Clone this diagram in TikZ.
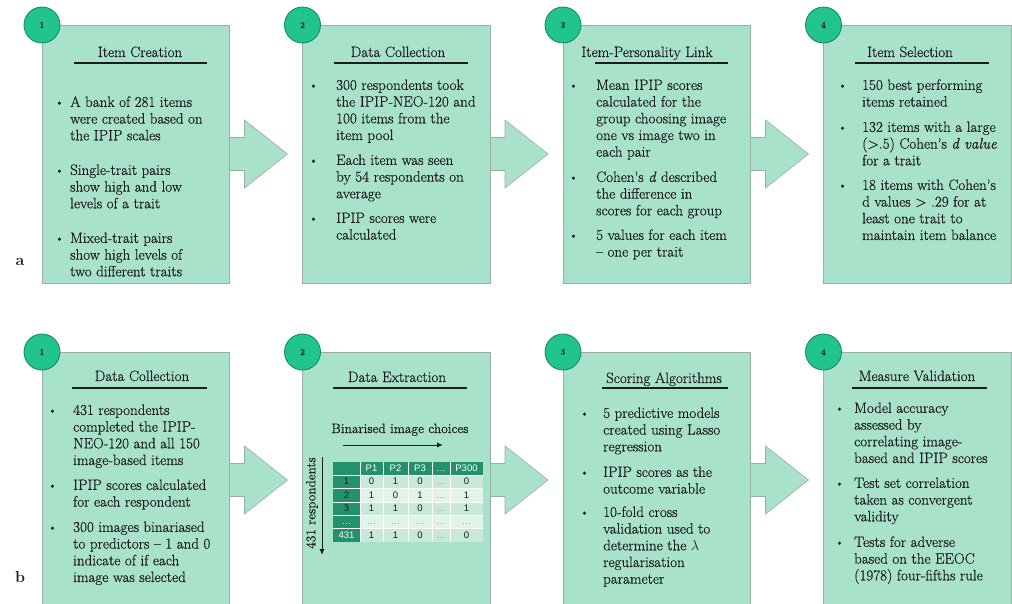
\documentclass[tikz,border=0pt]{standalone}
\usepackage{fontspec}
\usetikzlibrary{calc,arrows.meta,backgrounds}
\newfontfamily\tabfont{Liberation Sans}
\newfontfamily\heavyrm{Latin Modern Roman}[Ligatures=TeX,FakeBold=0.5]
\definecolor{boxfill}{HTML}{A9E2CB}
\definecolor{boxline}{HTML}{9AAEA5}
\definecolor{circfill}{HTML}{22C48E}
\definecolor{circline}{HTML}{14825F}
\definecolor{txt}{HTML}{1C1C1C}
\definecolor{tdark}{HTML}{239169}
\definecolor{tbA}{HTML}{C8E9D8}
\definecolor{tbB}{HTML}{E2F3EA}
\newcommand\ellg{\textcolor{gray!80}{\ldots}}
\newcommand\ellw{\textcolor{white!85!tdark}{\ldots}}
\newcommand\bitem[5]{%
  \node[btext] (#1) at (#3,#4-7) {\strut #5};
  \node[btext] (#1d) at (#2,#4-7) {\strut\raisebox{1.2pt}{\fontsize{11}{11}\selectfont\textbullet}};
}
\newcommand\flowarrow[2]{%
  \draw[arrowshape] ($(#1.east)+(-6,-16.5)$) -- ($(#1.east)+(15,-16.5)$) -- ($(#1.east)+(15,-34)$)
    -- ($(#1.east)+(58,0)$) -- ($(#1.east)+(15,34)$) -- ($(#1.east)+(15,16.5)$)
    -- ($(#1.east)+(-6,16.5)$) -- cycle;
}
\begin{document}
\begin{tikzpicture}[x=1pt,y=-1pt,
  box/.style={draw=boxline, line width=0.6pt, fill=boxfill, anchor=north west,
    minimum width=187.5pt, inner sep=0pt, outer sep=0pt},
  ha/.style={minimum height=258pt},
  hb/.style={minimum height=256pt},
  arrowshape/.style={draw=boxline, line width=0.6pt, fill=boxfill},
  num/.style={circle, minimum size=36pt, inner sep=0pt, fill=circfill, draw=circline,
    line width=0.8pt, font=\heavyrm\fontsize{9}{10}\selectfont, text=txt},
  ttl/.style={anchor=base, font=\heavyrm\fontsize{15}{18}\selectfont, text=txt, inner sep=0pt},
  uline/.style={line width=1.1pt, draw=txt},
  btext/.style={anchor=north west, align=left, inner sep=0pt,
    font=\heavyrm\fontsize{15}{16.7}\selectfont, text=txt},
  lbl/.style={font=\fontsize{16}{18}\selectfont\bfseries, text=txt, inner sep=0pt},
  thead/.style={font=\tabfont\fontsize{9.5}{11}\selectfont, text=white, inner sep=0pt,
    text height=6.9pt, text depth=0pt},
  tcell/.style={font=\tabfont\fontsize{9.5}{11}\selectfont, text=txt, inner sep=0pt,
    text height=6.9pt, text depth=0pt},
]
\useasboundingbox (0,0) rectangle (1012,604);

% ---------- panel a ----------
\node[box,ha] (a1) at (42,25) {};
\node[box,ha] (a2) at (302.5,25) {};
\node[box,ha] (a3) at (563,25) {};
\node[box,ha] (a4) at (823.5,25) {};

% ---------- panel b ----------
\node[box,hb] (b1) at (42,352) {};
\node[box,hb] (b2) at (302.5,352) {};
\node[box,hb] (b3) at (563,352) {};
\node[box,hb] (b4) at (823.5,352) {};

\begin{pgfonlayer}{background}
\flowarrow{a1}{a2}
\flowarrow{a2}{a3}
\flowarrow{a3}{a4}
\flowarrow{b1}{b2}
\flowarrow{b2}{b3}
\flowarrow{b3}{b4}
\end{pgfonlayer}

% number badges
\node[num] (na1) at (a1.north west) {1};
\node[num] (na2) at (a2.north west) {2};
\node[num] (na3) at (a3.north west) {3};
\node[num] (na4) at (a4.north west) {4};
\node[num] (nb1) at (b1.north west) {1};
\node[num] (nb2) at (b2.north west) {2};
\node[num] (nb3) at (b3.north west) {3};
\node[num] (nb4) at (b4.north west) {4};

% panel labels
\node[lbl] (la) at (20,262) {a};
\node[lbl] (lb) at (20,577) {b};

% titles a
\node[ttl] (ta1) at (140,57) {Item Creation};
\draw[uline] (74,63) -- (207,63);
\node[ttl] (ta2) at (398,57) {Data Collection};
\draw[uline] (334,63) -- (468,63);
\node[ttl] (ta3) at (647,57) {Item-Personality Link};
\draw[uline] (595,63) -- (728,63);
\node[ttl] (ta4) at (910,57) {Item Selection};
\draw[uline] (855,63) -- (989,63);

% titles b
\node[ttl] (tb1) at (142,381) {Data Collection};
\draw[uline] (72,388) -- (207,388);
\node[ttl] (tb2) at (397,382) {Data Extraction};
\draw[uline] (333,388) -- (467,388);
\node[ttl] (tb3) at (664,383) {Scoring Algorithms};
\draw[uline] (602,388) -- (728,388);
\node[ttl] (tb4) at (917,381) {Measure Validation};
\draw[uline] (852,388) -- (987,388);

% bullets a1
\bitem{a1p1}{55}{70}{102}{A bank of 281 items\\were created based on\\the IPIP scales}
\bitem{a1p2}{55}{70}{170}{Single-trait pairs\\show high and low\\levels of a trait}
\bitem{a1p3}{55}{70}{238}{Mixed-trait pairs\\show high levels of\\two different traits}
% bullets a2
\bitem{a2p1}{309}{336}{85}{300 respondents took\\the IPIP-NEO-120 and\\100 items from the\\item pool}
\bitem{a2p2}{309}{336}{160}{Each item was seen\\by 54 respondents on\\average}
\bitem{a2p3}{309}{336}{218}{IPIP scores were\\calculated}
% bullets a3
\bitem{a3p1}{569}{596}{85}{Mean IPIP scores\\calculated for the\\group choosing image\\one vs image two in\\each pair}
\bitem{a3p2}{569}{596}{177}{Cohen's \textit{d} described\\the difference in\\scores for each group}
\bitem{a3p3}{569}{596}{235}{5 values for each item\\-- one per trait}
% bullets a4
\bitem{a4p1}{838}{862}{85}{150 best performing\\items retained}
\bitem{a4p2}{838}{862}{127}{132 items with a large\\(>.5) Cohen's \textit{d value}\\for a trait}
\bitem{a4p3}{838}{862}{185}{18 items with Cohen's\\d values > .29 for at\\least one trait to\\maintain item balance}

% bullets b1
\bitem{b1p1}{48}{73}{410}{431 respondents\\completed the IPIP-\\NEO-120 and all 150\\image-based items}
\bitem{b1p2}{48}{73}{485}{IPIP scores calculated\\for each respondent}
\bitem{b1p3}{48}{73}{527}{300 images binariased\\to predictors -- 1 and 0\\indicate of if each\\image was selected}
% bullets b3
\bitem{b3p1}{580}{603}{413}{5 predictive models\\created using Lasso\\regression}
\bitem{b3p2}{580}{603}{472}{IPIP scores as the\\outcome variable}
\bitem{b3p3}{580}{603}{512}{10-fold cross\\validation used to\\determine the $\lambda$\\regularisation\\parameter}
% bullets b4
\bitem{b4p1}{835}{854}{408}{Model accuracy\\assessed by\\correlating image-\\based and IPIP scores}
\bitem{b4p2}{835}{854}{483}{Test set correlation\\taken as convergent\\validity}
\bitem{b4p3}{835}{854}{542}{Tests for adverse\\based on the EEOC\\(1978) four-fifths rule}

% ---------- b2 table ----------
\node[anchor=base, inner sep=0pt, font=\heavyrm\fontsize{13.5}{16}\selectfont, text=txt] (bic) at (400,433) {Binarised image choices};
\coordinate (hs) at (343,445);
\coordinate (he) at (443,445);
\draw[-{Latex[length=6pt,width=5pt]}, line width=1pt, txt] (hs) -- (he);
\node[rotate=90, inner sep=0pt, font=\heavyrm\fontsize{13.3}{16}\selectfont, text=txt] (resp) at (312,503) {431 respondents};
\coordinate (vs) at (322,457);
\coordinate (ve) at (322,555);
\draw[-{Latex[length=6pt,width=5pt]}, line width=1pt, txt] (vs) -- (ve);

\fill[tbA] (360,475) rectangle (483,488);
\fill[tbB] (360,488) rectangle (483,502);
\fill[tbA] (360,502) rectangle (483,515);
\fill[tbB] (360,515) rectangle (483,528);
\fill[tbA] (360,528) rectangle (483,542);
\fill[tdark] (333,462) rectangle (483,475);
\fill[tdark] (333,475) rectangle (360,542);
\foreach \gx in {360,383,408,432,450} \draw[white, line width=0.7pt] (\gx,462) -- (\gx,542);
\foreach \gy in {475,488,502,515,528} \draw[white, line width=0.7pt] (333,\gy) -- (483,\gy);

\foreach \cx/\t [count=\j] in {371.5/P1,395.5/P2,420/P3,441/\ellw,466.5/P300}
  \node[thead] (h\j) at (\cx,468.5) {\t};
\foreach \cy/\lab/\lc/\va/\vb/\vc/\vd/\ve [count=\i] in {
  481.5/1/txt/0/1/0/\ellg/0,
  495/2/txt/1/0/1/\ellg/1,
  508.5/3/txt/1/1/0/\ellg/1,
  521.5/\ellw/white/\ellg/\ellg/\ellg/\ellg/\ellg,
  535/431/white/1/1/0/\ellg/0}
{
  \node[tcell, text=\lc] (r\i-0) at (346.5,\cy) {\lab};
  \foreach \v/\cx [count=\k] in {\va/371.5,\vb/395.5,\vc/420,\vd/441,\ve/466.5}
    \node[tcell] (r\i-\k) at (\cx,\cy) {\v};
}
\end{tikzpicture}
\end{document}
